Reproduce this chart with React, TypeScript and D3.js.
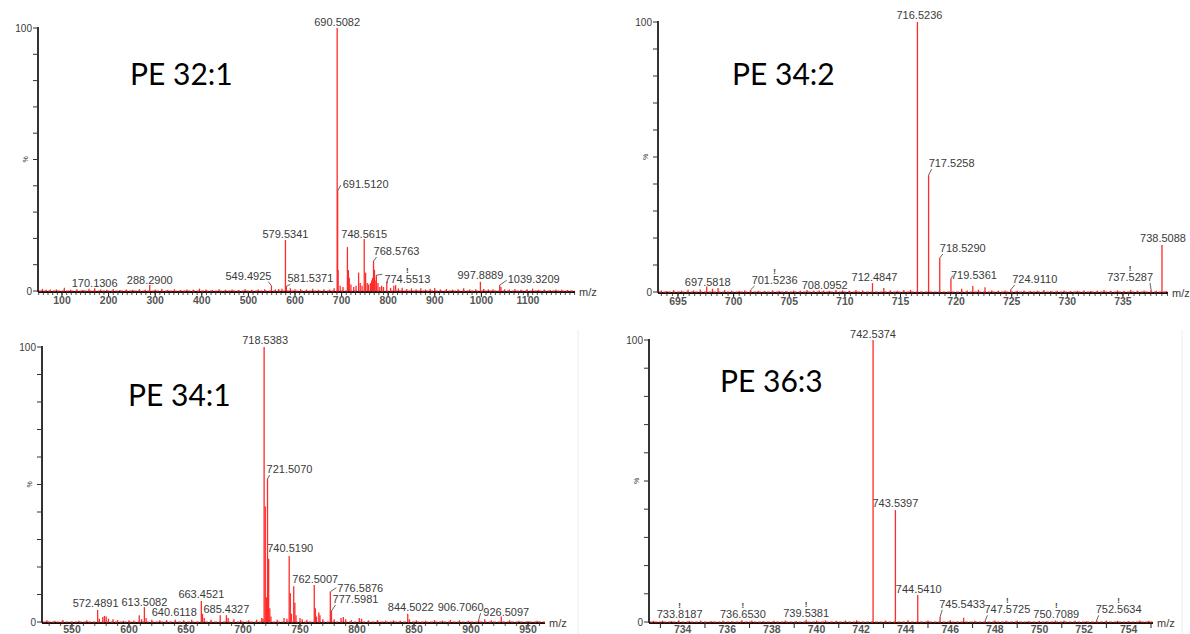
import React from "react";
import * as d3 from "d3";

const LABEL_FONT = "'Liberation Sans', Arial, Helvetica, sans-serif";
const TITLE_FONT = "Lato, 'Open Sans', sans-serif";

// ================= DATA =================
const titles = ["PE 32:1", "PE 34:2", "PE 34:1", "PE 36:3"];

// ---- Panel 1 : PE 32:1 ----
const p1XDomain: [number, number] = [48.5, 1200.9];
const p1XTickLabels = [100, 200, 300, 400, 500, 600, 700, 800, 900, 1000, 1100];
const p1Labeled: [number, number][] = [
  [170.1306, 1.0], [288.29, 2.3], [549.4925, 2.0], [579.5341, 19.4], [581.5371, 1.8],
  [690.5082, 100], [691.512, 38], [748.5615, 19.8], [768.5763, 11.4], [774.5513, 6],
  [997.8889, 3.5], [1039.3209, 2.2],
];
const p1Other: [number, number][] = [
  [58, 0.8], [66, 0.5], [75, 0.6], [88, 0.6], [105, 1.2], [118, 0.5], [132, 0.7], [145, 0.4],
  [158, 0.9], [183, 0.6], [196, 0.5], [210, 0.8], [224, 0.4], [238, 0.6], [252, 0.5], [266, 0.7],
  [279, 0.5], [300, 0.6], [314, 0.9], [327, 0.5], [341, 0.7], [355, 0.4], [368, 0.6], [382, 0.5],
  [395, 0.9], [409, 0.6], [423, 0.4], [437, 0.7], [451, 0.5], [465, 0.6], [479, 0.4], [493, 0.8],
  [507, 0.5], [521, 0.6], [535, 0.7], [558, 0.6], [565, 0.8], [572, 0.9], [590, 1.0], [600, 0.7],
  [612, 0.8], [625, 0.6], [638, 0.9], [650, 0.5], [662, 0.7], [675, 0.6], [684, 1.0], [692.5, 8],
  [697, 2], [703, 1.5], [712.5, 16.7], [714.5, 8], [716.5, 5], [720, 2.5], [726, 1.5], [731, 2],
  [736.5, 7], [740, 3], [744, 2], [751.5, 7], [755, 3], [758, 2.5], [762, 3], [764.5, 4],
  [766.5, 5], [770.5, 8], [772, 4], [778, 3], [782, 1.5], [786, 2], [790, 1.5], [797, 3.5],
  [805, 1.2], [812, 2], [816, 2.2], [822, 1], [830, 1.2], [840, 0.8], [850, 1], [860, 0.7],
  [870, 1], [880, 0.6], [890, 0.9], [900, 1.1], [912, 0.6], [925, 0.8], [938, 0.5], [950, 0.7],
  [962, 1.0], [975, 0.6], [988, 0.7], [1005, 0.8], [1015, 0.6], [1025, 0.7], [1042, 1.5],
  [1050, 0.7], [1060, 0.6], [1072, 0.8], [1085, 0.5], [1098, 0.7], [1110, 0.9], [1122, 0.5],
  [1135, 0.6], [1148, 0.4], [1160, 0.6], [1172, 0.5], [1185, 0.4],
];

// ---- Panel 2 : PE 34:2 ----
const p2XDomain: [number, number] = [693.2, 739.05];
const p2XTickLabels = [695, 700, 705, 710, 715, 720, 725, 730, 735];
const p2Labeled: [number, number][] = [
  [697.5818, 2.0], [701.5236, 0.8], [708.0952, 0.6], [712.4847, 3.3], [716.5236, 100],
  [717.5258, 43.3], [718.529, 12.6], [719.5361, 5], [724.911, 0.8], [737.5287, 0.8],
  [738.5088, 17.4],
];
const p2Other: [number, number][] = [
  [693.5, 0.6], [694.0, 0.4], [694.6, 0.7], [695.3, 0.5], [695.9, 0.8], [696.4, 0.6], [697.0, 0.9],
  [698.1, 1.2], [698.6, 1.5], [699.2, 0.7], [699.8, 0.5], [700.5, 0.4], [701.0, 0.6], [702.2, 0.5],
  [702.8, 0.4], [703.5, 0.6], [704.1, 0.5], [704.7, 0.4], [705.4, 0.6], [706.0, 0.5], [706.6, 0.7],
  [707.2, 0.5], [707.7, 0.6], [708.6, 0.5], [709.2, 0.7], [709.8, 0.6], [710.4, 0.5], [711.0, 0.7],
  [711.6, 0.6], [713.5, 1.5], [714.1, 0.6], [714.7, 0.5], [715.3, 0.7], [715.9, 0.8], [720.5, 1.2],
  [721.0, 0.6], [721.5, 2.2], [722.0, 0.8], [722.6, 1.8], [723.2, 0.6], [723.8, 0.5], [724.4, 0.6],
  [725.5, 0.5], [726.1, 0.6], [726.7, 0.4], [727.3, 0.5], [727.9, 0.7], [728.5, 0.4], [729.1, 0.5],
  [729.7, 0.6], [730.3, 0.4], [730.9, 0.5], [731.5, 0.6], [732.1, 0.4], [732.7, 0.5], [733.3, 0.7],
  [733.9, 0.5], [734.5, 0.6], [735.1, 0.4], [735.7, 0.7], [736.3, 0.5], [736.9, 0.6], [738.0, 0.5],
  [738.9, 0.4],
];

// ---- Panel 3 : PE 34:1 ----
const p3XDomain: [number, number] = [523.7, 964.9];
const p3XTickLabels = [550, 600, 650, 700, 750, 800, 850, 900, 950];
const p3Labeled: [number, number][] = [
  [572.4891, 4.4], [613.5082, 5.4], [640.6118, 0.8], [663.4521, 7.6], [685.4327, 2.5],
  [718.5383, 100], [721.507, 52], [740.519, 24], [762.5007, 13.5], [776.5876, 11],
  [777.5981, 4], [844.5022, 3], [906.706, 0.7], [926.5097, 2],
];
const p3Other: [number, number][] = [
  [528, 0.6], [535, 0.5], [542, 0.7], [556, 0.5], [563, 0.6], [574, 1.2], [577, 1.8], [578.5, 2.2],
  [580, 2.0], [582, 1.2], [586, 1.0], [590, 0.7], [595, 0.5], [600, 0.6], [604, 0.5], [609, 2.5],
  [611, 1.0], [615, 1.5], [620, 0.8], [627, 0.6], [633, 0.7], [648, 0.6], [655, 0.8], [664.5, 3],
  [666, 1.5], [672, 0.8], [680, 2.5], [687, 1.5], [692, 1], [698, 0.7], [705, 0.6], [712, 0.8],
  [716.5, 1.5], [717.5, 1.2], [719.54, 42], [720.5, 9], [722.5, 23], [723.5, 5], [724.5, 2],
  [730, 0.8], [736, 1.5], [738.5, 1.2], [741.5, 10.5], [742.5, 3], [744.5, 13], [745.5, 7],
  [746.5, 2.5], [750, 1.5], [752, 1], [756, 0.8], [763.5, 5], [764.5, 2], [766.5, 3.5],
  [767.5, 2.5], [770, 1], [780, 1], [786, 1.5], [788, 1.8], [790, 1], [795, 0.6], [802, 1.5],
  [804, 1.2], [810, 0.6], [818, 0.7], [825, 0.5], [832, 0.6], [838, 0.5], [846, 1], [852, 0.6],
  [860, 0.5], [868, 0.7], [875, 0.5], [882, 0.8], [890, 0.6], [898, 0.5], [912, 1], [918, 0.6],
  [934, 0.6], [942, 0.5], [950, 0.4], [958, 0.5],
];

// ---- Panel 4 : PE 36:3 ----
const p4XDomain: [number, number] = [732.49, 755.09];
const p4XTickLabels = [734, 736, 738, 740, 742, 744, 746, 748, 750, 752, 754];
const p4XTickMarks = [733, 735, 737, 739, 741, 743, 745, 747, 749, 751, 753, 755];
const p4Labeled: [number, number][] = [
  [733.8187, 0.6], [736.653, 0.6], [739.5381, 0.8], [742.5374, 100], [743.5397, 39.7],
  [744.541, 9.6], [745.5433, 1.8], [747.5725, 0.6], [750.7089, 0.5], [752.5634, 0.6],
];
const p4Other: [number, number][] = [
  [732.7, 0.4], [733.1, 0.5], [733.5, 0.3], [734.3, 0.4], [734.8, 0.5], [735.3, 0.3], [735.8, 0.4],
  [736.2, 0.3], [737.1, 0.5], [737.6, 0.3], [738.1, 0.4], [738.6, 0.5], [739.1, 0.3], [740.0, 0.5],
  [740.4, 0.6], [740.9, 0.4], [741.3, 0.5], [741.8, 0.6], [743.1, 0.5], [744.1, 0.6], [745.0, 0.5],
  [746.0, 0.6], [746.6, 1.5], [747.1, 0.4], [748.0, 0.5], [748.5, 0.4], [749.0, 0.5], [749.5, 0.3],
  [750.0, 0.4], [750.3, 0.3], [751.1, 0.5], [751.6, 0.4], [752.1, 0.3], [753.0, 0.5], [753.5, 0.4],
  [754.0, 0.3], [754.5, 0.5], [754.9, 0.4],
];

// ================= LAYOUT (positions / styles) =================
interface LabelLayout { dx: number; dy: number; leader?: boolean; bang?: boolean; ex?: number; ey?: number }

const p1Layout: LabelLayout[] = [
  { dx: 0, dy: -1 }, { dx: 0, dy: -1 }, { dx: -23, dy: -6, leader: true }, { dx: 0, dy: -2 },
  { dx: 24, dy: -4, leader: true }, { dx: 0, dy: -2 }, { dx: 28, dy: -3, leader: true, ex: -2, ey: -3 },
  { dx: 0, dy: -1 }, { dx: 23, dy: -6, leader: true }, { dx: 31, dy: 8, leader: true, bang: true, ex: -2, ey: -9 },
  { dx: 0, dy: -3 }, { dx: 34, dy: -2, leader: true, ex: -1, ey: -3 },
];
const p2Layout: LabelLayout[] = [
  { dx: 1, dy: -1 }, { dx: 24, dy: -6, leader: true, bang: true }, { dx: 1, dy: -1 }, { dx: 2, dy: -2 },
  { dx: 2, dy: -3 }, { dx: 23, dy: -8, leader: true }, { dx: 23, dy: -6, leader: true },
  { dx: 23, dy: 0, leader: true, ex: 2, ey: -3 }, { dx: 24, dy: -7, leader: true },
  { dx: -21, dy: -9, leader: true, bang: true }, { dx: 1, dy: -3 },
];
const p3Layout: LabelLayout[] = [
  { dx: -2, dy: -3 }, { dx: 0, dy: -1 }, { dx: -1, dy: -4 }, { dx: 0, dy: -3 }, { dx: 0, dy: -2 },
  { dx: 1, dy: -3 }, { dx: 22, dy: -6, leader: true }, { dx: 1, dy: -4 }, { dx: 1, dy: -2 },
  { dx: 30, dy: 0, leader: true, ex: -1, ey: -4 }, { dx: 24, dy: -8, leader: true }, { dx: 3, dy: -3 },
  { dx: -18, dy: -9, leader: true }, { dx: 5, dy: -1 },
];
const p4Layout: LabelLayout[] = [
  { dx: 1, dy: -2, bang: true }, { dx: 1, dy: -2, bang: true }, { dx: 0, dy: -3, bang: true },
  { dx: 0, dy: -2 }, { dx: 0, dy: -3 }, { dx: 1, dy: -2 }, { dx: 22, dy: -9, leader: true },
  { dx: 22, dy: -7, leader: true, bang: true }, { dx: 1, dy: -3, bang: true },
  { dx: 22, dy: -7, leader: true, bang: true },
];

interface PanelCfg {
  title: string; titlePos: [number, number];
  xDomain: [number, number]; xRange: [number, number]; yRange: [number, number];
  tickLabels: number[]; tickMarks?: number[]; minorStep: number; tickLabelDy: number;
  labeled: [number, number][]; other: [number, number][]; layout: LabelLayout[];
}

const panels: PanelCfg[] = [
  {
    title: titles[0], titlePos: [130, 85], xDomain: p1XDomain, xRange: [38, 575], yRange: [291, 28],
    tickLabels: p1XTickLabels, minorStep: 10, tickLabelDy: 13, labeled: p1Labeled, other: p1Other, layout: p1Layout,
  },
  {
    title: titles[1], titlePos: [732, 85], xDomain: p2XDomain, xRange: [658, 1168], yRange: [292, 22],
    tickLabels: p2XTickLabels, minorStep: 0.5, tickLabelDy: 13, labeled: p2Labeled, other: p2Other, layout: p2Layout,
  },
  {
    title: titles[2], titlePos: [128, 406], xDomain: p3XDomain, xRange: [42, 545], yRange: [622, 347],
    tickLabels: p3XTickLabels, minorStep: 10, tickLabelDy: 10.5, labeled: p3Labeled, other: p3Other, layout: p3Layout,
  },
  {
    title: titles[3], titlePos: [720, 392], xDomain: p4XDomain, xRange: [649, 1153], yRange: [622, 340],
    tickLabels: p4XTickLabels, tickMarks: p4XTickMarks, minorStep: 0, tickLabelDy: 10.5, labeled: p4Labeled,
    other: p4Other, layout: p4Layout,
  },
];

const RED = "#ff2a2a";
const TXT = "#3a3a3a";

function textWidth(s: string, size = 11) {
  let w = 0;
  for (const c of s) w += c === "." ? 0.278 : 0.556;
  return w * size;
}

function Panel({ cfg }: { cfg: PanelCfg }) {
  const x = d3.scaleLinear().domain(cfg.xDomain).range(cfg.xRange);
  const y = d3.scaleLinear().domain([0, 100]).range(cfg.yRange);
  const x0 = cfg.xRange[0];
  const x1 = cfg.xRange[1];
  const y0 = y(0);
  const yTicks = d3.range(0, 101, 10);
  const minor = cfg.minorStep > 0
    ? d3.range(Math.ceil(cfg.xDomain[0] / cfg.minorStep) * cfg.minorStep, cfg.xDomain[1], cfg.minorStep)
    : [];
  const marks = cfg.tickMarks ?? cfg.tickLabels;
  const allPeaks = [...cfg.other, ...cfg.labeled];

  return (
    <g>
      <text x={cfg.titlePos[0]} y={cfg.titlePos[1]} fontFamily={TITLE_FONT} fontSize={30} fill="#000">
        {cfg.title}
      </text>

      {/* y axis */}
      <line x1={x0} x2={x0} y1={y(100) - 1} y2={y0 + 1} stroke="#333" strokeWidth={2} />
      {yTicks.map((t) => (
        <line key={t} x1={x0 - 5} x2={x0} y1={y(t)} y2={y(t)} stroke="#333" strokeWidth={1} />
      ))}
      <text x={x0 - 6} y={y(100) + 3.5} textAnchor="end" fontFamily={LABEL_FONT} fontSize={10} fill={TXT}>100</text>
      <text x={x0 - 6} y={y0 + 3.5} textAnchor="end" fontFamily={LABEL_FONT} fontSize={10} fill={TXT}>0</text>
      <text transform={`translate(${x0 - 10},${y(50)}) rotate(-90)`} textAnchor="middle"
        fontFamily={LABEL_FONT} fontSize={7} fill={TXT}>%</text>

      {/* x axis */}
      <line x1={x0} x2={x1} y1={y0 + 1} y2={y0 + 1} stroke="#111" strokeWidth={2} />
      {minor.map((t, i) => (
        <line key={"m" + i} x1={x(t)} x2={x(t)} y1={y0 + 1} y2={y0 + 4} stroke="#222" strokeWidth={0.8} />
      ))}
      {marks.map((t) => (
        <line key={"M" + t} x1={x(t)} x2={x(t)} y1={y0 + 1} y2={y0 + 6} stroke="#222" strokeWidth={1} />
      ))}
      {cfg.tickLabels.map((t) => (
        <text key={"L" + t} x={x(t)} y={y0 + cfg.tickLabelDy} textAnchor="middle" fontFamily={LABEL_FONT}
          fontSize={10.5} fontWeight="bold" fill="#555">{t}</text>
      ))}
      <text x={x1 + 4} y={y0 + 5} fontFamily={LABEL_FONT} fontSize={11} fill={TXT}>m/z</text>

      {/* spectrum sticks */}
      <line x1={x0 + 1} x2={x1} y1={y0} y2={y0} stroke={RED} strokeWidth={1} strokeDasharray="3 1.5" />
      {allPeaks.map(([mz, v], i) => (
        <line key={"p" + i} x1={x(mz)} x2={x(mz)} y1={y0} y2={y(v)} stroke={RED} strokeWidth={1.3} />
      ))}

      {/* peak labels */}
      {cfg.labeled.map(([mz, v], i) => {
        const L = cfg.layout[i];
        const txt = mz.toFixed(4);
        const px = x(mz);
        const py = y(v);
        const cx = px + L.dx;
        const by = py + L.dy;
        const w = textWidth(txt);
        let lead = null;
        if (L.leader) {
          const ex = L.dx >= 0 ? cx - w / 2 + (L.ex ?? 3) : cx + w / 2 - (L.ex ?? 3);
          const ey = by + (L.ey ?? 2);
          lead = <line x1={px} y1={py} x2={ex} y2={ey} stroke="#555" strokeWidth={0.9} />;
        }
        return (
          <g key={"lab" + i}>
            {lead}
            {L.bang && (
              <text x={cx} y={by - 10} textAnchor="middle" fontFamily={LABEL_FONT} fontSize={8}
                fontWeight="bold" fill={TXT}>!</text>
            )}
            <text x={cx} y={by} textAnchor="middle" fontFamily={LABEL_FONT} fontSize={11} fill={TXT}>{txt}</text>
          </g>
        );
      })}
    </g>
  );
}

export default function App() {
  return (
    <svg width={1190} height={634} style={{ position: "absolute", left: 0, top: 0, background: "#fff" }}>
      <rect width={1190} height={634} fill="#fff" />
      <line x1={578} x2={578} y1={330} y2={634} stroke="#ececec" strokeWidth={1} />
      <line x1={1182} x2={1182} y1={330} y2={634} stroke="#ececec" strokeWidth={1} />
      {panels.map((p, i) => (
        <Panel key={i} cfg={p} />
      ))}
    </svg>
  );
}
